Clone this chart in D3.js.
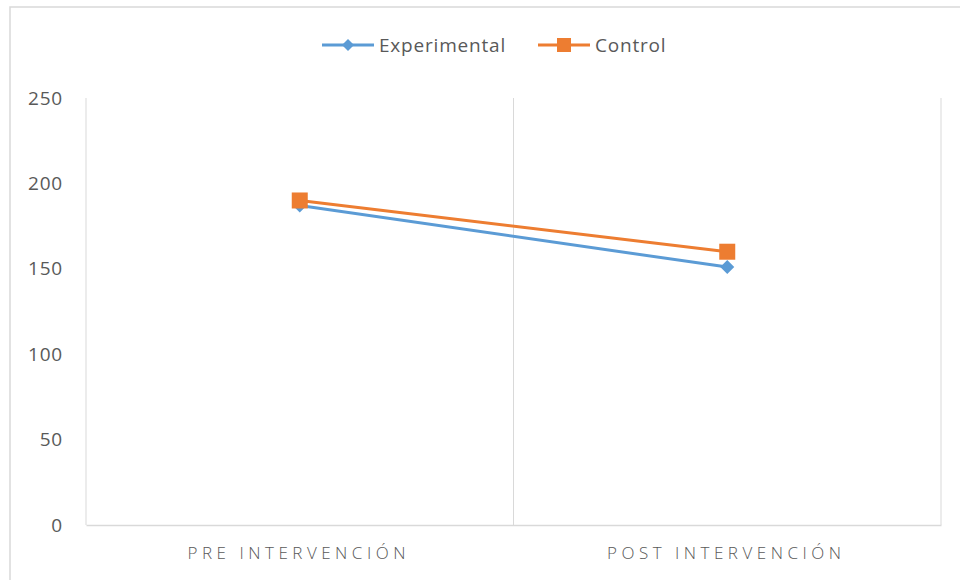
<!DOCTYPE html>
<html>
<head>
<meta charset="utf-8">
<script src="https://cdn.jsdelivr.net/npm/d3@7"></script>
<style>
  html, body { margin: 0; padding: 0; background: #fff; }
  svg { display: block; font-family: "Open Sans", "Liberation Sans", sans-serif; }
</style>
</head>
<body>
<svg id="chart" width="960" height="580"></svg>
<script>
// Chart data
const categories = ["PRE INTERVENCIÓN", "POST INTERVENCIÓN"];
const experimental = [187, 151];
const control = [190, 160];
const yTicks = [0, 50, 100, 150, 200, 250];

const series = [
  { name: "Experimental", values: experimental, color: "#5b9bd5", marker: "diamond" },
  { name: "Control", values: control, color: "#ed7d31", marker: "square" }
];

const svg = d3.select("#chart");
const W = 960, H = 580;
const plot = { left: 86, right: 941, top: 98, bottom: 525 };

// Outer chart frame
svg.append("rect")
  .attr("x", 10).attr("y", 7)
  .attr("width", W + 10).attr("height", H + 10)
  .attr("fill", "#fff").attr("stroke", "#d9d9d9").attr("stroke-width", 1.5);

const x = d3.scaleBand().domain(categories).range([plot.left, plot.right]).padding(0);
const y = d3.scaleLinear().domain([0, 250]).range([plot.bottom, plot.top]);

// Vertical category separators
const gridX = [plot.left, ...categories.map(c => x(c) + x.bandwidth())];
svg.append("g").selectAll("line").data(gridX).join("line")
  .attr("x1", d => d).attr("x2", d => d)
  .attr("y1", plot.top).attr("y2", plot.bottom)
  .attr("stroke", "#d9d9d9").attr("stroke-width", 1);

// Category axis
const xAxis = svg.append("g")
  .attr("transform", `translate(0,${plot.bottom})`)
  .call(d3.axisBottom(x).tickSize(0).tickPadding(0));
xAxis.select(".domain").attr("stroke", "#d9d9d9").attr("stroke-width", 1.5);
xAxis.selectAll("text")
  .attr("y", 22)
  .attr("dx", "-1px")
  .attr("fill", "#595959")
  .style("font-size", "17px")
  .style("letter-spacing", "4.5px")
  .style("font-family", "'Open Sans', sans-serif")
  .style("font-weight", "300");

// Value axis
const yAxis = svg.append("g")
  .attr("transform", `translate(${plot.left},0)`)
  .call(d3.axisLeft(y).tickValues(yTicks).tickSize(0).tickPadding(23));
yAxis.select(".domain").remove();
yAxis.selectAll("text")
  .attr("fill", "#595959")
  .style("font-size", "19px")
  .style("letter-spacing", "0.8px")
  .style("font-family", "'Open Sans', sans-serif");

// Series lines and markers
const cx = c => x(c) + x.bandwidth() / 2;
const line = d3.line().x((d, i) => cx(categories[i])).y(d => y(d));

function drawMarker(g, type, color) {
  if (type === "diamond") {
    g.append("path").attr("d", "M0,-7L7,0L0,7L-7,0Z").attr("fill", color);
  } else {
    g.append("rect").attr("x", -8).attr("y", -8).attr("width", 16).attr("height", 16).attr("fill", color);
  }
}

series.forEach(s => {
  svg.append("path")
    .datum(s.values)
    .attr("d", line)
    .attr("fill", "none")
    .attr("stroke", s.color)
    .attr("stroke-width", 3);
  s.values.forEach((v, i) => {
    const g = svg.append("g").attr("transform", `translate(${cx(categories[i])},${y(v)})`);
    drawMarker(g, s.marker, s.color);
  });
});

// Legend
const legendItems = [
  { s: series[0], x: 322 },
  { s: series[1], x: 538 }
];
legendItems.forEach(({ s, x: lx }) => {
  const g = svg.append("g").attr("transform", `translate(${lx},45)`);
  g.append("line").attr("x1", 0).attr("x2", 52).attr("y1", 0).attr("y2", 0)
    .attr("stroke", s.color).attr("stroke-width", 3);
  const m = g.append("g").attr("transform", "translate(26,0)");
  if (s.marker === "diamond") {
    m.append("path").attr("d", "M0,-6L6,0L0,6L-6,0Z").attr("fill", s.color);
  } else {
    m.append("rect").attr("x", -7).attr("y", -7).attr("width", 14).attr("height", 14).attr("fill", s.color);
  }
  g.append("text").attr("x", 57).attr("y", 0).attr("dy", "0.35em")
    .attr("fill", "#595959")
    .style("font-size", "19px")
    .style("letter-spacing", "0.8px")
    .style("font-family", "'Open Sans', sans-serif")
    .text(s.name);
});
</script>
</body>
</html>
